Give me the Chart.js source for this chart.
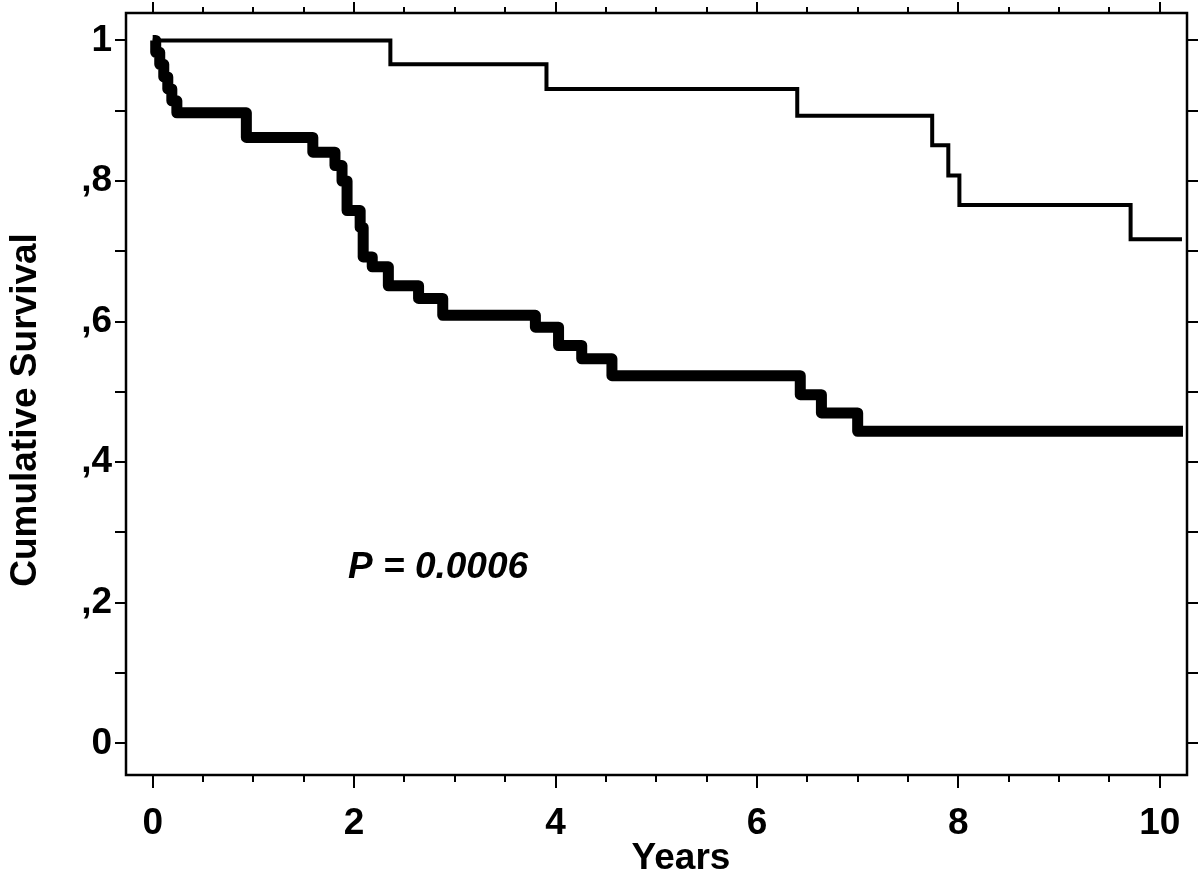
<!DOCTYPE html>
<html>
<head>
<meta charset="utf-8">
<script src="https://cdn.jsdelivr.net/npm/chart.js@4.4.0/dist/chart.umd.min.js"></script>
<style>
  html, body { margin: 0; padding: 0; background: #fff; }
</style>
</head>
<body>
<canvas id="km" width="1200" height="877"></canvas>
<script>
// survival curves (years, cumulative survival)
const thinTimes = [0, 2.36, 3.91, 6.40, 7.74, 7.90, 8.01, 9.71, 10.22];
const thinSurv = [1.0, 0.966, 0.931, 0.893, 0.851, 0.808, 0.766, 0.717, 0.717];

const thickTimes = [0, 0.03, 0.07, 0.11, 0.15, 0.19, 0.24, 0.93, 1.59, 1.81, 1.88, 1.93,
  2.06, 2.09, 2.18, 2.34, 2.64, 2.88, 3.80, 4.03, 4.26, 4.56, 6.43, 6.64, 7.00, 10.23];
const thickSurv = [1.0, 0.983, 0.966, 0.948, 0.931, 0.914, 0.897, 0.862, 0.841, 0.822, 0.800, 0.758,
  0.734, 0.692, 0.678, 0.651, 0.633, 0.609, 0.592, 0.566, 0.547, 0.523, 0.496, 0.470, 0.444, 0.444];

const xTicks = [0, 0.5, 1, 1.5, 2, 2.5, 3, 3.5, 4, 4.5, 5, 5.5, 6, 6.5, 7, 7.5, 8, 8.5, 9, 9.5, 10];
const xLabels = [0, 2, 4, 6, 8, 10];
const yTicks = [0, 0.1, 0.2, 0.3, 0.4, 0.5, 0.6, 0.7, 0.8, 0.9, 1];
const yLabelVals = [0, 0.2, 0.4, 0.6, 0.8, 1];
const yLabelText = ["0", ",2", ",4", ",6", ",8", "1"];

const FONT = "'Liberation Sans', Arial, sans-serif";

function toPoints(xs, ys) {
  return xs.map((x, i) => ({ x: x, y: ys[i] }));
}

function near(a, b) {
  return Math.abs(a - b) < 1e-6;
}

// frame, outward ticks on all four sides and the text
const decorations = {
  id: "decorations",
  afterDraw(chart) {
    const ctx = chart.ctx;
    const { left, right, top, bottom } = chart.chartArea;
    const x = chart.scales.x;
    const y = chart.scales.y;
    ctx.save();
    ctx.strokeStyle = "#000";
    ctx.lineWidth = 2;
    ctx.beginPath();
    xTicks.forEach((v) => {
      const px = Math.round(x.getPixelForValue(v));
      const major = xLabels.some((l) => near(l, v));
      ctx.moveTo(px, bottom);
      ctx.lineTo(px, bottom + (major ? 13 : 7));
      ctx.moveTo(px, top);
      ctx.lineTo(px, top - (major ? 11 : 6));
    });
    yTicks.forEach((v) => {
      const py = Math.round(y.getPixelForValue(v));
      ctx.moveTo(left, py);
      ctx.lineTo(left - 11, py);
      ctx.moveTo(right, py);
      ctx.lineTo(right + 11, py);
    });
    ctx.stroke();
    ctx.lineWidth = 2.5;
    ctx.strokeRect(left, top, right - left, bottom - top);

    ctx.fillStyle = "#000";
    ctx.font = "bold 37px " + FONT;
    ctx.textAlign = "center";
    ctx.textBaseline = "middle";
    ctx.fillText("Years", 681, 859);

    ctx.save();
    ctx.translate(26, 410);
    ctx.rotate(-Math.PI / 2);
    ctx.fillText("Cumulative Survival", 0, 0);
    ctx.restore();

    ctx.font = "italic bold 37px " + FONT;
    ctx.textAlign = "left";
    ctx.fillText("P = 0.0006", x.getPixelForValue(1.94), y.getPixelForValue(0.25));
    ctx.restore();
  }
};

new Chart(document.getElementById("km"), {
  type: "line",
  data: {
    datasets: [
      {
        label: "group 1",
        data: toPoints(thinTimes, thinSurv),
        borderColor: "#000",
        borderWidth: 4,
        stepped: "before",
        pointRadius: 0,
        fill: false,
        borderJoinStyle: "miter",
        borderCapStyle: "butt"
      },
      {
        label: "group 2",
        data: toPoints(thickTimes, thickSurv),
        borderColor: "#000",
        borderWidth: 11,
        stepped: "before",
        pointRadius: 0,
        fill: false,
        borderJoinStyle: "round",
        borderCapStyle: "butt"
      }
    ]
  },
  options: {
    responsive: false,
    animation: false,
    events: [],
    layout: { padding: { top: 13, right: 13, left: 0, bottom: 0 } },
    plugins: {
      legend: { display: false },
      tooltip: { enabled: false },
      title: { display: false }
    },
    scales: {
      x: {
        type: "linear",
        min: -0.265,
        max: 10.27,
        grid: { display: false, drawTicks: false },
        border: { display: false },
        afterBuildTicks: (s) => { s.ticks = xTicks.map((v) => ({ value: v })); },
        afterFit: (s) => {
          s.height = 102;
          s.paddingLeft = 0;
          s.paddingRight = 0;
        },
        ticks: {
          autoSkip: false,
          maxRotation: 0,
          padding: 27,
          color: "#000",
          font: { family: FONT, size: 37, weight: "bold" },
          callback: (v) => (xLabels.some((l) => near(l, v)) ? String(v) : "")
        }
      },
      y: {
        type: "linear",
        min: -0.045,
        max: 1.039,
        grid: { display: false, drawTicks: false },
        border: { display: false },
        afterBuildTicks: (s) => { s.ticks = yTicks.map((v) => ({ value: v })); },
        afterFit: (s) => {
          s.width = 126;
          s.paddingTop = 0;
          s.paddingBottom = 0;
        },
        ticks: {
          autoSkip: false,
          padding: 14,
          color: "#000",
          font: { family: FONT, size: 37, weight: "bold" },
          callback: (v) => {
            const i = yLabelVals.findIndex((l) => near(l, v));
            return i >= 0 ? yLabelText[i] : "";
          }
        }
      }
    }
  },
  plugins: [decorations]
});
</script>
</body>
</html>
